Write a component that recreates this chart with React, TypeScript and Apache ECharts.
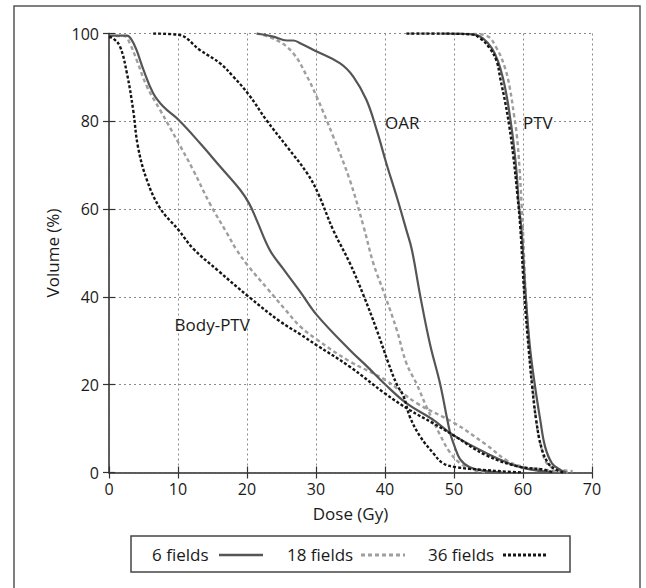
import React, { useEffect, useRef } from "react";
import * as echarts from "echarts";

type Pt = [number, number];

// Dose (Gy) / Volume (%) pairs
const bodyPtv6: Pt[] = [[0,99.5],[2.6,99.5],[3.3,98.5],[4.0,96.2],[5.0,91.7],[6.4,86.4],[7.9,83.3],[10.1,80.3],[13.2,75],[16.1,69.7],[19,64.4],[20.3,61.3],[21.4,57.5],[23.3,50.7],[25.2,46.5],[27.7,41.2],[30.1,35.9],[34.9,27.9],[37.5,24.0],[40,20.1],[43.1,15.8],[47,12],[49.9,8.5],[54.7,4.4],[58.6,1.7],[61,0.7],[64.3,0]];
const bodyPtv18: Pt[] = [[0,99.4],[2.3,99.4],[3.0,97.8],[4.0,94],[5.5,87.9],[7.4,82.6],[10.1,75],[12.2,68.9],[14.6,61.3],[17.1,54.5],[18.5,50.7],[20.2,47],[23,41.8],[25.5,37.2],[27.7,33.3],[30.1,30.3],[34.9,25.3],[40,21.1],[44.6,15.8],[49.9,11.4],[54.7,6.3],[57.6,2.8],[60,1.3],[63.4,0.6],[66.5,0]];
const bodyPtv36: Pt[] = [[0,99.2],[0.6,98.9],[1.6,97],[2.6,90.9],[3.5,82.6],[4.2,74.2],[5.5,66.6],[7.4,60.2],[10.1,55.2],[12.2,51],[15.8,46],[20.2,40.1],[24.8,34.4],[27.7,31.5],[30.1,29],[34.9,24.1],[40,18],[43.6,14.2],[47,11.2],[49.9,8.5],[54.7,3.9],[59.5,1.3],[62.8,0.7],[64.5,0]];

const oar6: Pt[] = [[21.4,100],[23.8,99.3],[25.8,98.4],[26.7,98.4],[27.7,97.8],[30.1,95.9],[33.5,93.2],[35.4,90.2],[37.3,84.9],[38.8,78],[40.2,70.4],[41.7,62.8],[43.1,55.2],[43.9,50.7],[45.1,40.3],[46.5,29.4],[48,20.1],[49.4,9.3],[50.1,5.9],[50.9,3.0],[52.3,1.2],[54.7,0.3],[57,0]];
const oar18: Pt[] = [[21.4,100],[24.3,98.5],[26.7,95.5],[28.7,90.2],[30.1,85.6],[32.5,76.5],[34.9,66.6],[36.9,56],[38.3,47.7],[40,40.3],[41.7,32.5],[43.1,24.9],[44.6,20.1],[46,15],[48,8.5],[49.4,4.6],[50.9,2.1],[52.8,0.6],[54.5,0]];
const oar36: Pt[] = [[6.4,100],[10.1,99.7],[13.2,96.2],[16.1,93.2],[18,90.2],[20.3,86],[22.8,80.3],[25.8,74.2],[28.7,68.2],[30.3,63.6],[32.5,55.2],[34.9,47.7],[36.9,40.3],[38.8,32.5],[40.5,24.9],[41.7,20.1],[42.7,17.3],[43.6,12.7],[45.1,8.2],[47,4.4],[48.4,2.1],[50.4,1.2],[54.2,0.6],[57.6,0.2],[60,0]];

const ptv6: Pt[] = [[48.4,100],[52.8,99.8],[54.2,98.9],[55.5,96.6],[56.4,93.6],[57.1,89.8],[57.7,85.2],[58.2,80.1],[58.6,75.4],[59.1,67.8],[59.4,60.9],[59.8,55],[60.4,40.2],[61,28.7],[61.7,20.1],[62.5,12],[63.2,5.9],[64.2,2.1],[65.4,0.6],[66.3,0]];
const ptv18: Pt[] = [[43.6,100],[52.5,99.9],[54.7,99.5],[56.2,96.6],[57.4,92.1],[58.1,87.5],[58.7,81.4],[59.1,76.9],[59.5,69.3],[59.8,60.9],[60.0,55],[60.4,40.2],[60.9,28],[61.4,20],[61.9,12],[62.6,6],[63.5,2],[65,0.8],[67.2,0.3]];
const ptv36: Pt[] = [[43.1,100],[47,100],[52.5,99.8],[53.8,98.9],[55.2,96.6],[56.2,93.6],[56.7,89.8],[57.4,84.5],[58.0,79],[58.6,72],[59.2,63],[59.6,56],[60.2,40.2],[60.8,28.5],[61.3,20],[61.9,12],[62.7,5.5],[63.7,2],[64.8,0.6],[65.8,0]];

const fieldNames = ["6 fields", "18 fields", "36 fields"];
const xTicks = { min: 0, max: 70, interval: 10 };
const yTicks = { min: 0, max: 100, interval: 20 };
const annotations: [number, number, string][] = [[40, 79.8, "OAR"], [60, 79.8, "PTV"], [9.5, 33.6, "Body-PTV"]];

const FONT = "'Open Sans', 'Noto Sans', sans-serif";

export default function App() {
  const ref = useRef<HTMLDivElement>(null);
  useEffect(() => {
    if (!ref.current) return;
    const chart = echarts.init(ref.current, undefined, { renderer: "svg" });
    const styles = [
      { color: "#9e9e9e", type: [4, 3] as any, width: 2.4 },
      { color: "#555555", type: "solid" as any, width: 2.2 },
      { color: "#151515", type: [3, 2] as any, width: 2.4 },
    ];
    const groups: [string, Pt[], any][] = [
      [fieldNames[1], bodyPtv18, styles[0]],
      [fieldNames[1], oar18, styles[0]],
      [fieldNames[1], ptv18, styles[0]],
      [fieldNames[0], bodyPtv6, styles[1]],
      [fieldNames[0], oar6, styles[1]],
      [fieldNames[0], ptv6, styles[1]],
      [fieldNames[2], bodyPtv36, styles[2]],
      [fieldNames[2], oar36, styles[2]],
      [fieldNames[2], ptv36, styles[2]],
    ];
    const lineSeries = groups.map(([name, data, ls]) => ({
      type: "line",
      name,
      data,
      showSymbol: false,
      symbol: "none",
      smooth: 0.4,
      lineStyle: { color: ls.color, type: ls.type, width: ls.width, cap: "butt" },
      itemStyle: { color: ls.color },
      z: 3,
    }));
    const axisLine = { show: true, lineStyle: { color: "#555", width: 1.5 } };
    const axisTick = { show: true, inside: true, length: 6, lineStyle: { color: "#333", width: 1.2 } };
    const splitLine = { show: true, lineStyle: { color: "#8a8a8a", type: [2, 3], width: 1 } };
    const labelStyle = { color: "#1a1a1a", fontSize: 16, fontFamily: FONT };

    // legend drawn as graphic elements
    const lx = 131, ly = 536, lw = 439, lh = 36;
    const legendItems = [
      { text: fieldNames[0], tx: 152, x1: 219, x2: 263, st: styles[1] },
      { text: fieldNames[1], tx: 287, x1: 361, x2: 405, st: styles[0] },
      { text: fieldNames[2], tx: 428, x1: 503, x2: 548, st: styles[2] },
    ];
    const graphic: any[] = [
      { type: "rect", shape: { x: 14, y: 6, width: 626, height: 600 }, style: { fill: "none", stroke: "#555", lineWidth: 1.5 }, silent: true },
      { type: "rect", shape: { x: lx, y: ly, width: lw, height: lh }, style: { fill: "#fff", stroke: "#444", lineWidth: 1.5 }, silent: true },
    ];
    legendItems.forEach((it) => {
      graphic.push({
        type: "text",
        x: it.tx,
        y: ly + lh / 2,
        style: { text: it.text, fill: "#1a1a1a", fontSize: 17, fontFamily: FONT, verticalAlign: "middle" },
      });
      graphic.push({
        type: "line",
        shape: { x1: it.x1, y1: ly + lh / 2 + 1, x2: it.x2, y2: ly + lh / 2 + 1 },
        style: { stroke: it.st.color, lineWidth: it.st.width + 0.4, lineDash: it.st.type === "solid" ? null : it.st.type },
      });
    });

    chart.setOption({
      animation: false,
      backgroundColor: "#fff",
      grid: { left: 109, right: 54, top: 33.5, bottom: 115.5, containLabel: false },
      xAxis: [
        {
          type: "value", ...xTicks, position: "bottom",
          name: "Dose (Gy)", nameLocation: "middle", nameGap: 32,
          nameTextStyle: { color: "#1a1a1a", fontSize: 17, fontFamily: FONT },
          axisLine, axisTick, splitLine,
          axisLabel: { ...labelStyle, margin: 8 },
        },
        {
          type: "value", ...xTicks, position: "top",
          axisLine, axisTick, splitLine: { show: false }, axisLabel: { show: false },
        },
      ],
      yAxis: [
        {
          type: "value", ...yTicks, position: "left",
          name: "Volume (%)", nameLocation: "middle", nameGap: 46,
          nameTextStyle: { color: "#1a1a1a", fontSize: 17, fontFamily: FONT },
          axisLine, axisTick, splitLine,
          axisLabel: { ...labelStyle, margin: 10 },
        },
        {
          type: "value", ...yTicks, position: "right",
          axisLine, axisTick, splitLine: { show: false }, axisLabel: { show: false },
        },
      ],
      series: [
        ...lineSeries,
        {
          type: "scatter",
          name: "labels",
          data: annotations,
          symbolSize: 0,
          z: 5,
          itemStyle: { color: "#1a1a1a", opacity: 1 },
          label: {
            show: true,
            position: [0, 0],
            align: "left",
            verticalAlign: "middle",
            formatter: (p: any) => p.value[2],
            color: "#1a1a1a",
            opacity: 1,
            fontSize: 17,
            fontFamily: FONT,
          },
        },
      ],
      graphic,
    });
    return () => chart.dispose();
  }, []);
  return <div ref={ref} style={{ position: "fixed", left: 0, top: 0, width: 646, height: 588 }} />;
}
